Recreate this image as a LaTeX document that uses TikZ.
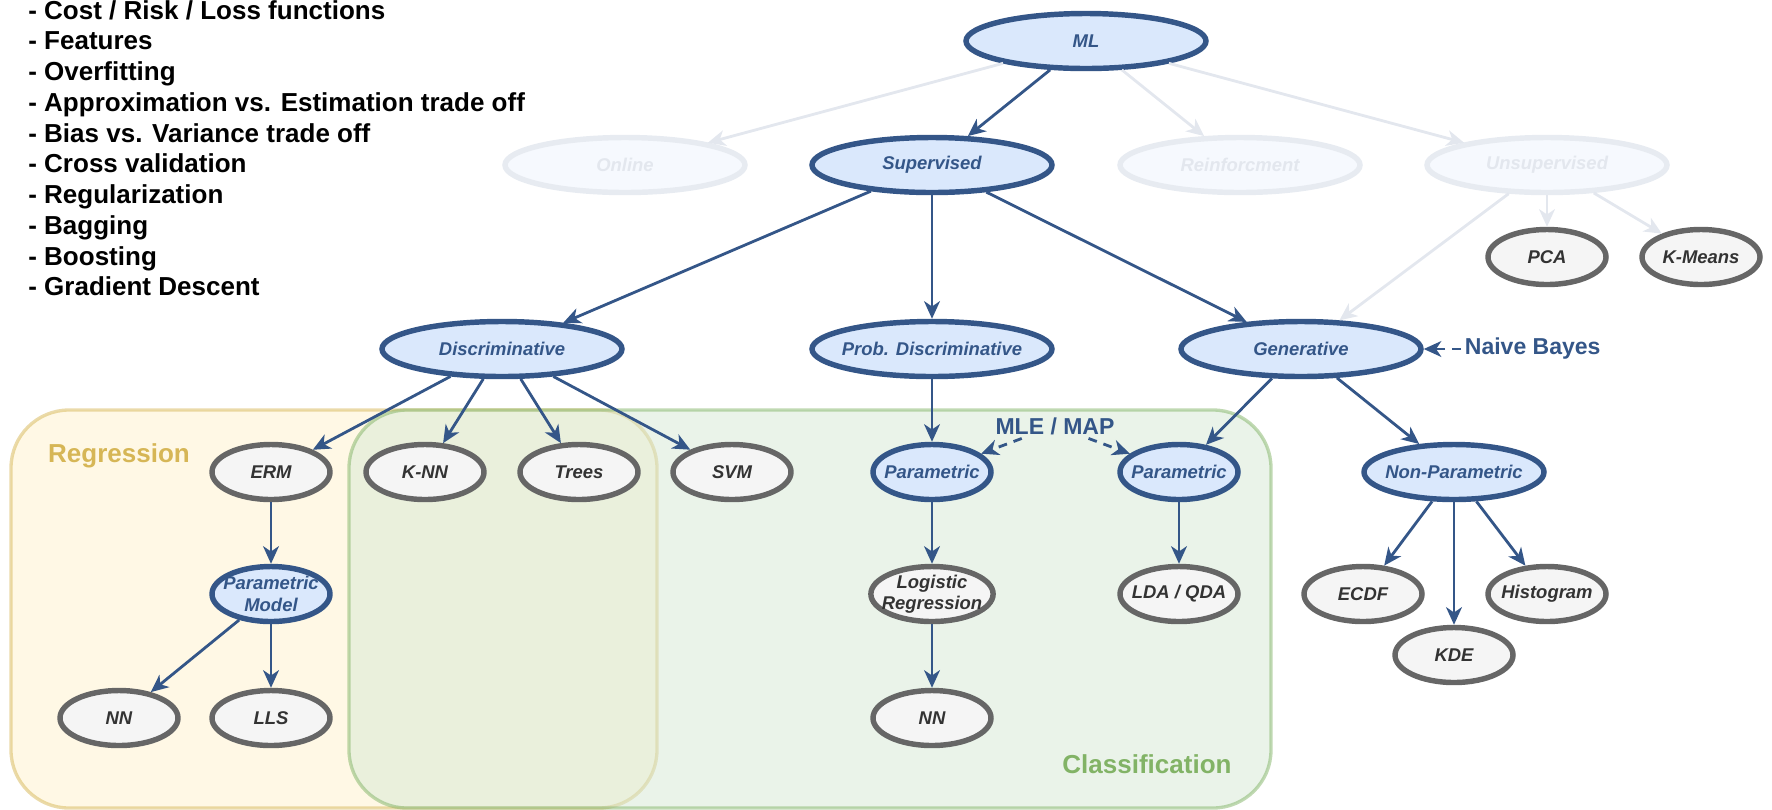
\documentclass[tikz,border=0pt]{standalone}
\usepackage{fontspec}
\setmainfont{Liberation Sans}
\setsansfont{Liberation Sans}
\usetikzlibrary{arrows.meta,shapes.geometric,backgrounds}
\definecolor{mlline}{RGB}{52,86,136}
\definecolor{mlfill}{RGB}{218,232,252}
\definecolor{leafline}{RGB}{102,102,102}
\definecolor{leaffill}{RGB}{245,245,245}
\definecolor{leaftext}{RGB}{51,51,51}
\definecolor{regline}{RGB}{214,182,86}
\definecolor{regfill}{RGB}{255,242,204}
\definecolor{clsline}{RGB}{130,179,102}
\definecolor{clsfill}{RGB}{213,232,212}

\begin{document}
\begin{tikzpicture}[
  >={Stealth[length=10pt,width=9pt,inset=3pt]},
  nd/.style={ellipse, line width=3.1pt, inner xsep=-4pt, inner ysep=0pt, align=center,
             font=\fontsize{10.5}{12.2}\selectfont\bfseries\itshape,
             minimum height=1.1cm},
  big/.style={minimum width=4.8cm},
  sml/.style={minimum width=2.36cm},
  bnd/.style={nd, draw=mlline, fill=mlfill, text=mlline},
  gnd/.style={nd, draw=leafline, fill=leaffill, text=leaftext},
  fnd/.style={nd, draw=mlline!12, fill=mlfill!25, text=mlline!14},
  e/.style={->, draw=mlline, line width=1.6pt},
  efd/.style={e, draw=mlline!14},
  edsh/.style={e, dashed, dash pattern=on 5pt off 4pt},
  lbl/.style={font=\fontsize{13.1}{15}\selectfont\bfseries, text=mlline, inner sep=2pt},
  grp/.style={line width=1.9pt, rounded corners=1.16cm, fill opacity=0.5, draw opacity=0.5},
  grplbl/.style={font=\fontsize{14.8}{17}\selectfont\bfseries}
]
\useasboundingbox (0,0) rectangle (35.44,-16.18);

% regions
\draw[grp, draw=regline, fill=regfill] (0.22,-8.20) rectangle (13.14,-16.16);
\draw[grp, draw=clsline, fill=clsfill] (6.98,-8.20) rectangle (25.42,-16.16);
\node[grplbl, text=regline] (reglbl) at (2.38,-9.12) {Regression};
\node[grplbl, text=clsline] (clslbl) at (22.94,-15.28) {Classification};

% topics
\node[anchor=north west, inner sep=0pt, align=left,
      font=\fontsize{14.8}{17.5}\selectfont\bfseries] (topics) at (0.56,0)
  {- Cost / Risk / Loss functions\\ - Features\\ - Overfitting\\
   - Approximation vs. Estimation trade off\\ - Bias vs. Variance trade off\\
   - Cross validation\\ - Regularization\\ - Bagging\\ - Boosting\\
   - Gradient Descent};

% row 1-2
\node[bnd, big] (ml) at (21.72,-0.82) {ML};
\node[fnd, big] (onl) at (12.50,-3.30) {Online};
\node[bnd, big] (sup) at (18.64,-3.30) {Supervised};
\node[fnd, big] (rein) at (24.80,-3.30) {Reinforcment};
\node[fnd, big] (unsup) at (30.94,-3.30) {Unsupervised};
\node[gnd, sml] (pca) at (30.94,-5.14) {PCA};
\node[gnd, sml] (kmeans) at (34.02,-5.14) {K-Means};
% row 3
\node[bnd, big] (disc) at (10.04,-6.98) {Discriminative};
\node[bnd, big] (pdisc) at (18.64,-6.98) {Prob. Discriminative};
\node[bnd, big] (gen) at (26.02,-6.98) {Generative};
\node[lbl, anchor=west] (nb) at (29.22,-6.98) {Naive Bayes};
% row 4
\node[gnd, sml] (erm) at (5.42,-9.44) {ERM};
\node[gnd, sml] (knn) at (8.50,-9.44) {K-NN};
\node[gnd, sml] (trees) at (11.58,-9.44) {Trees};
\node[gnd, sml] (svm) at (14.64,-9.44) {SVM};
\node[bnd, sml] (parl) at (18.64,-9.44) {Parametric};
\node[bnd, sml] (parr) at (23.58,-9.44) {Parametric};
\node[bnd, minimum width=3.6cm] (npar) at (29.08,-9.44) {Non-Parametric};
\node[lbl] (mle) at (21.10,-8.52) {MLE / MAP};
% row 5
\node[bnd, sml] (pmod) at (5.42,-11.88) {Parametric\\Model};
\node[gnd, sml] (logr) at (18.64,-11.88) {Logistic\\Regression};
\node[gnd, sml] (lda) at (23.58,-11.88) {LDA / QDA};
\node[gnd, sml] (ecdf) at (27.26,-11.88) {ECDF};
\node[gnd, sml] (hist) at (30.94,-11.88) {Histogram};
\node[gnd, sml] (kde) at (29.08,-13.10) {KDE};
% row 6
\node[gnd, sml] (nnl) at (2.38,-14.36) {NN};
\node[gnd, sml] (lls) at (5.42,-14.36) {LLS};
\node[gnd, sml] (nnm) at (18.64,-14.36) {NN};

% faded branches
\draw[efd] (ml) -- (onl);
\draw[efd] (ml) -- (rein);
\draw[efd] (ml) -- (unsup);
\draw[efd] (unsup) -- (pca);
\draw[efd] (unsup) -- (kmeans);
\draw[efd] (unsup) -- (gen);

% main tree
\draw[e] (ml) -- (sup);
\draw[e] (sup) -- (disc);
\draw[e] (sup) -- (pdisc);
\draw[e] (sup) -- (gen);
\draw[e] (disc) -- (erm);
\draw[e] (disc) -- (knn);
\draw[e] (disc) -- (trees);
\draw[e] (disc) -- (svm);
\draw[e] (pdisc) -- (parl);
\draw[e] (gen) -- (parr);
\draw[e] (gen) -- (npar);
\draw[e] (erm) -- (pmod);
\draw[e] (pmod) -- (nnl);
\draw[e] (pmod) -- (lls);
\draw[e] (parl) -- (logr);
\draw[e] (logr) -- (nnm);
\draw[e] (parr) -- (lda);
\draw[e] (npar) -- (ecdf);
\draw[e] (npar) -- (kde);
\draw[e] (npar) -- (hist);

% dashed hints
\draw[edsh] (nb) -- (gen);
\draw[edsh] (mle) -- (parl);
\draw[edsh] (mle) -- (parr);
\end{tikzpicture}
\end{document}
